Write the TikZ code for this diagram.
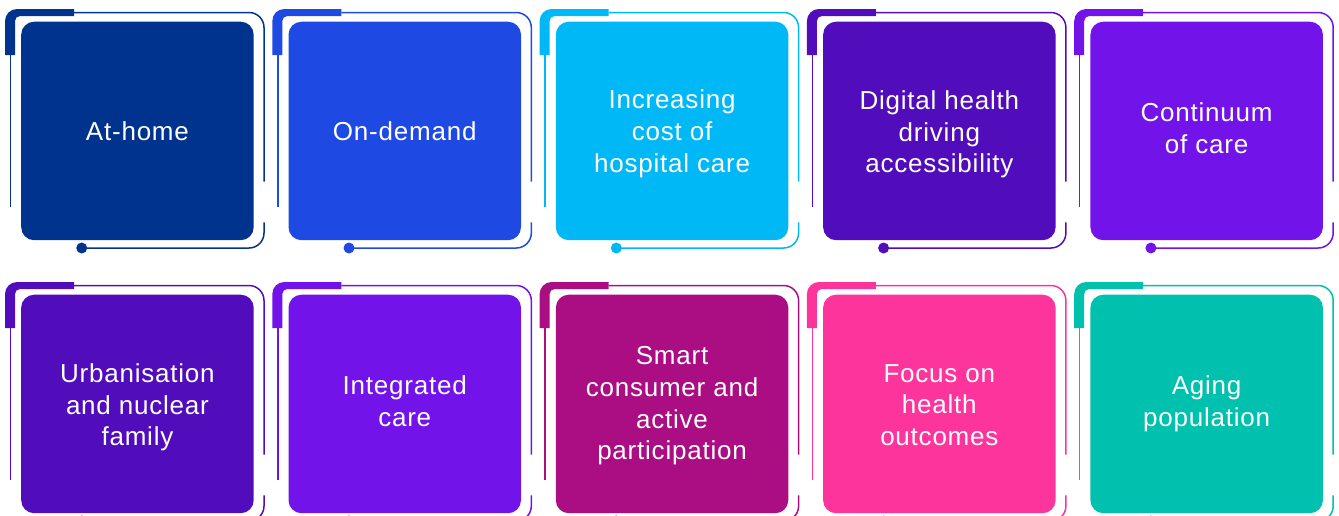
\documentclass[tikz,border=0pt]{standalone}
\usepackage{fontspec}
\setmainfont[LetterSpace=3]{Liberation Sans}
\definecolor{cA}{HTML}{00338D}
\definecolor{cB}{HTML}{1E49E2}
\definecolor{cC}{HTML}{00B8F5}
\definecolor{cD}{HTML}{510DBC}
\definecolor{cE}{HTML}{7213EA}
\definecolor{cF}{HTML}{AB0D82}
\definecolor{cG}{HTML}{FD349C}
\definecolor{cH}{HTML}{00C0AE}
% #1 x, #2 y, #3 colour, #4 name, #5 text, #6 downward text shift
\newcommand\kpmgtile[6]{%
  \node[tilebox, fill=#3] (#4) at (#1,#2) {};
  \node[tiletext, yshift=-#6pt] (#4-text) at (#4.center) {#5};
  \begin{scope}[shift={(#1,#2)}]
    \fill[#3] (-16,33.5) -- (-16,-0.5) arc[start angle=180,end angle=270,radius=12]
      -- (53,-12.5) -- (53,-5.5) -- (-1,-5.5) arc[start angle=270,end angle=180,radius=5]
      -- (-6,33.5) -- cycle;
    \draw[thinline, draw=#3] (-10.5,33.5) -- (-10.5,185.5);
    \draw[thinline, draw=#3] (53,-9) -- (228,-9) arc[start angle=270,end angle=360,radius=15] -- (243,160.2);
    \draw[thinline, draw=#3] (243,200.8) -- (243,211.5) arc[start angle=0,end angle=90,radius=15] -- (60.7,226.5);
    \fill[#3] (60.7,226.5) circle[radius=5.5];
  \end{scope}}
\begin{document}
\begin{tikzpicture}[x=1pt,y=-1pt,
  tilebox/.style={anchor=north west, minimum width=232.5pt, minimum height=218.5pt,
    inner sep=0pt, rounded corners=13pt, draw=none},
  tiletext/.style={text=white, align=center, inner sep=0pt,
    font=\fontsize{26pt}{31.7pt}\selectfont},
  thinline/.style={line width=1.5pt}]
\useasboundingbox (0,0) rectangle (1339,515);
\kpmgtile{21}{21.5}{cA}{t1}{At-home}{0}
\kpmgtile{288.3}{21.5}{cB}{t2}{On-demand}{0}
\kpmgtile{555.6}{21.5}{cC}{t3}{Increasing\\cost of\\hospital care}{3}
\kpmgtile{822.9}{21.5}{cD}{t4}{Digital health\\driving\\accessibility}{3.5}
\kpmgtile{1090.2}{21.5}{cE}{t5}{Continuum\\of care}{-3}
\kpmgtile{21}{294.5}{cD}{t6}{Urbanisation\\and nuclear\\family}{3.5}
\kpmgtile{288.3}{294.5}{cE}{t7}{Integrated\\care}{-3}
\kpmgtile{555.6}{294.5}{cF}{t8}{Smart\\consumer and\\active\\participation}{2}
\kpmgtile{822.9}{294.5}{cG}{t9}{Focus on\\health\\outcomes}{1}
\kpmgtile{1090.2}{294.5}{cH}{t10}{Aging\\population}{0}
\end{tikzpicture}
\end{document}
